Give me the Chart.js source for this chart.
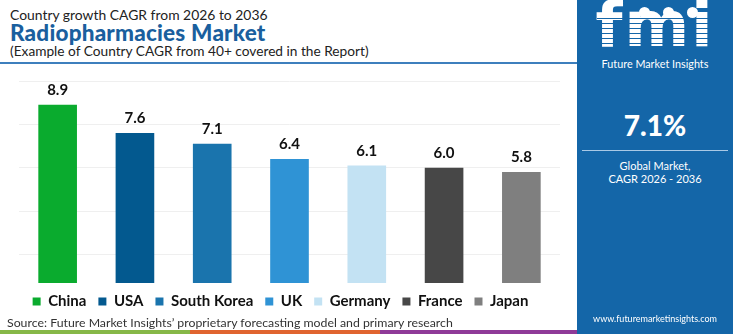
<!DOCTYPE html>
<html>
<head>
<meta charset="utf-8">
<script src="https://cdn.jsdelivr.net/npm/chart.js@4"></script>
<style>
  html, body { margin: 0; padding: 0; background: #fff; }
  body { width: 750px; height: 334px; position: relative; overflow: hidden; font-family: Lato, sans-serif; }
  .t1 { position: absolute; left: 10px; top: 6px; font-size: 13.9px; color: #222; }
  .t2 { position: absolute; left: 10px; top: 19px; font-size: 22.5px; font-weight: 900; color: #1a5f9e; letter-spacing: 0.2px; }
  .t3 { position: absolute; left: 10px; top: 42px; font-size: 13.7px; color: #222; }
  .hline { position: absolute; left: 0; top: 62px; width: 577px; height: 2px; background: #3d7fbd; }
  #wrap { position: absolute; left: 0; top: 70px; width: 577px; height: 258px; }
  .src { position: absolute; left: 7px; top: 315px; font-size: 12.3px; color: #333; }
  .stripe { position: absolute; top: 330px; height: 4px; }
  .panel { position: absolute; left: 577px; top: 0; width: 156px; height: 334px; background: #1466a8; color: #fff; text-align: center; }
  .logo { position: absolute; left: 0; width: 156px; top: -6px; font-size: 62px; font-weight: 800; letter-spacing: 2px; line-height: 62px;
          color: #fff; font-family: "DejaVu Sans", sans-serif; }
  .logo-lines { position: absolute; left: 20px; top: 14px; width: 116px; height: 42px;
          background: repeating-linear-gradient(to bottom, transparent 0 4px, #1466a8 4px 5px); }
  .dot { position: absolute; top: 7px; width: 11px; height: 11px; border-radius: 50%; background: #fff; }
  .fmi { position: absolute; left: 0; width: 156px; top: 57px; font-size: 10.8px; }
  .big { position: absolute; left: 0; width: 156px; top: 108px; font-size: 28px; font-weight: 900; }
  .div { position: absolute; left: 5px; width: 146px; top: 150px; height: 1px; background: #a9c9e6; }
  .g1 { position: absolute; left: 0; width: 156px; top: 159px; font-size: 11px; line-height: 13px; }
  .web { position: absolute; left: 0; width: 156px; top: 313px; font-size: 9px; }
</style>
</head>
<body>
<div class="t1">Country growth CAGR from 2026 to 2036</div>
<div class="t2">Radiopharmacies Market</div>
<div class="t3">(Example of Country CAGR from 40+ covered in the Report)</div>
<div class="hline"></div>
<div id="wrap"><canvas id="cagrChart"></canvas></div>
<div class="src">Source: Future Market Insights’ proprietary forecasting model and primary research</div>
<div class="stripe" style="left:0;width:190px;background:#86b848;"></div>
<div class="stripe" style="left:190px;width:190px;background:#e0642f;"></div>
<div class="stripe" style="left:380px;width:197px;background:#8f3a98;"></div>
<div class="panel">
  <div class="logo">fmi</div>
  <div class="logo-lines"></div>
  <div class="dot" style="left:62px"></div>
  <div class="dot" style="left:86px"></div>
  <div class="dot" style="left:110px"></div>
  <div class="fmi">Future Market Insights</div>
  <div class="big">7.1%</div>
  <div class="div"></div>
  <div class="g1">Global Market,<br>CAGR 2026 - 2036</div>
  <div class="web">www.futuremarketinsights.com</div>
</div>

<script>
// dados do grafico
const categories = ['China', 'USA', 'South Korea', 'UK', 'Germany', 'France', 'Japan'];
const cagrValues = [8.9, 7.6, 7.1, 6.4, 6.1, 6.0, 5.8];
const barColors = ['#0aab2e', '#03598f', '#1a74ad', '#2f93d5', '#c3e2f3', '#474747', '#7f7f7f'];
const yTicks = [2, 4, 6, 8, 10];

// escreve o valor em cima de cada barra
const valueLabels = {
    id: 'valueLabels',
    afterDatasetsDraw(chart) {
        const ctx = chart.ctx;
        const meta = chart.getDatasetMeta(0);
        ctx.save();
        ctx.font = 'bold 15px Lato, sans-serif';
        ctx.fillStyle = '#111';
        ctx.textAlign = 'center';
        ctx.textBaseline = 'bottom';
        meta.data.forEach((bar, i) => {
            ctx.fillText(cagrValues[i].toFixed(1), bar.x, bar.y - 7);
        });
        ctx.restore();
    }
};

// sobe a legenda para ficar colada nas barras, como no original
const legendShift = {
    id: 'legendShift',
    afterLayout(chart) {
        const lg = chart.legend;
        lg.top -= 9; lg.bottom -= 9;
        lg.left -= 8; lg.right -= 8;
    }
};

new Chart(document.getElementById('cagrChart'), {
    type: 'bar',
    data: {
        labels: categories,
        datasets: [{
            data: cagrValues,
            backgroundColor: barColors,
            borderWidth: 0,
            barPercentage: 0.5,
            categoryPercentage: 1
        }]
    },
    options: {
        responsive: true,
        maintainAspectRatio: false,
        devicePixelRatio: 1,
        animation: false,
        layout: { padding: { left: 0, right: 0, top: 11, bottom: 0 } },
        plugins: {
            tooltip: { enabled: false },
            legend: {
                position: 'bottom',
                labels: {
                    boxWidth: 8,
                    boxHeight: 8,
                    padding: 12,
                    font: { size: 15, weight: 'bold', family: 'Lato, sans-serif' },
                    generateLabels: function() {
                        return categories.map((c, i) => ({
                            text: c,
                            fillStyle: barColors[i],
                            strokeStyle: barColors[i],
                            lineWidth: 0,
                            fontColor: '#111',
                            index: i
                        }));
                    }
                }
            }
        },
        scales: {
            x: {
                grid: { display: false },
                border: { display: false },
                ticks: { display: false }
            },
            y: {
                min: 0.68,
                max: 10,
                afterBuildTicks: function(scale) {
                    scale.ticks = yTicks.map(v => ({ value: v }));
                },
                afterFit: function(scale) { scale.width = 19; },
                grid: { color: '#efefef', drawTicks: false },
                border: { display: false },
                ticks: { display: false }
            },
            yRight: {
                position: 'right',
                display: true,
                afterFit: function(scale) { scale.width = 17; },
                grid: { display: false },
                border: { display: false },
                ticks: { display: false }
            }
        }
    },
    plugins: [valueLabels, legendShift]
});
</script>
</body>
</html>
